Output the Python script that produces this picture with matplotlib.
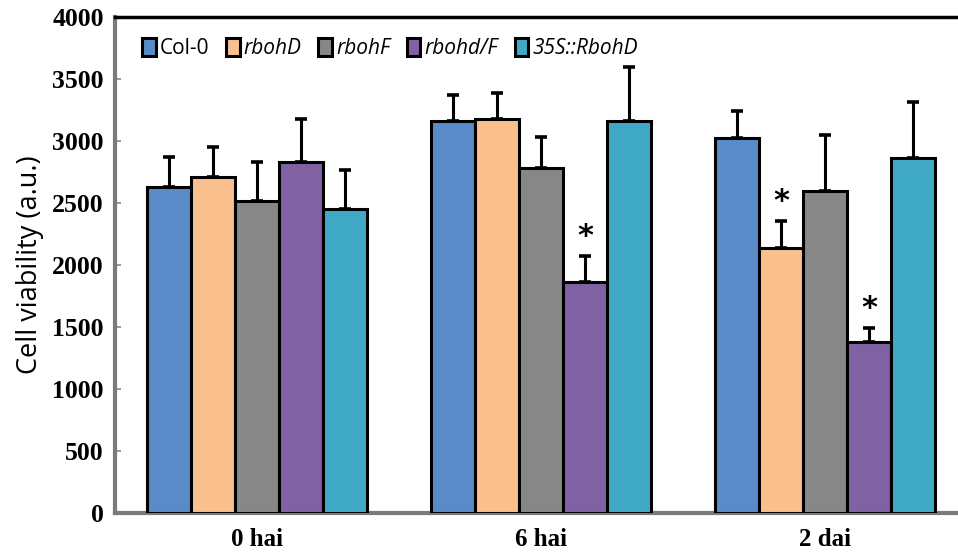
import numpy as np
import matplotlib.pyplot as plt

# 各时间点、各基因型的细胞活力均值和标准误
timepoints = ['0 hai', '6 hai', '2 dai']
genotypes = ['Col-0', 'rbohD', 'rbohF', 'rbohd/F', '35S::RbohD']
colors = ['#588BC8', '#F9C08E', '#878787', '#8062A4', '#40AAC6']

col0 = [2630, 3160, 3025]
rbohD = [2710, 3180, 2135]
rbohF = [2520, 2780, 2600]
rbohdF = [2830, 1865, 1380]
rbohD_oe = [2450, 3160, 2860]

col0_err = [243, 211, 217]
rbohD_err = [244, 210, 222]
rbohF_err = [313, 250, 448]
rbohdF_err = [347, 208, 109]
rbohD_oe_err = [316, 437, 457]

# 显著性标记 (基因型序号, 时间点序号)
stars = [(3, 1), (1, 2), (3, 2)]

means = [col0, rbohD, rbohF, rbohdF, rbohD_oe]
errs = [col0_err, rbohD_err, rbohF_err, rbohdF_err, rbohD_oe_err]

plt.rcParams['font.family'] = ['Open Sans', 'DejaVu Sans']

fig = plt.figure(figsize=(9.58, 5.55), dpi=100)
ax = fig.add_axes([0.12, 0.0757, 0.88, 0.8937])

x = np.arange(len(timepoints))
width = 0.155
handles = []
for i, name in enumerate(genotypes):
    pos = x + (i - 2) * width
    b = ax.bar(pos, means[i], width, color=colors[i], edgecolor='black',
               linewidth=2.2, zorder=3)
    handles.append(b)
    ax.errorbar(pos, means[i], yerr=[np.zeros(3), errs[i]], fmt='none',
                ecolor='black', elinewidth=2.2, capsize=4.5, capthick=2.6,
                zorder=2)

for gi, ti in stars:
    top = means[gi][ti] + errs[gi][ti]
    ax.text(x[ti] + (gi - 2) * width, top + 40, '*', ha='center', va='bottom',
            fontsize=22, fontweight='bold', family='DejaVu Sans')

ax.set_xlim(-0.5, 2.468)
ax.set_ylim(0, 4000)
ax.set_yticks(np.arange(0, 4001, 500))
ax.set_xticks(x)
ax.set_xticklabels(timepoints, family='Liberation Serif', fontweight='bold',
                   fontsize=18)
for lab in ax.get_yticklabels():
    lab.set_family('Liberation Serif')
    lab.set_fontweight('bold')
    lab.set_fontsize(18.5)
ax.tick_params(axis='y', direction='in', length=4, width=1.2, color='#888888',
               pad=8)
ax.tick_params(axis='x', length=0, pad=11)

ax.set_ylabel('Cell viability (a.u.)', fontsize=19.5, labelpad=6)

ax.spines['right'].set_visible(False)
ax.spines['top'].set_color('black')
ax.spines['top'].set_linewidth(2.5)
for s in ['left', 'bottom']:
    ax.spines[s].set_color('#7a7a7a')
    ax.spines[s].set_linewidth(3)

leg = ax.legend(handles, genotypes, loc='upper left', ncol=5, frameon=False,
                fontsize=15, handlelength=0.65, handleheight=0.9,
                handletextpad=0.2, columnspacing=0.8,
                bbox_to_anchor=(0.01, 0.995))
for t in leg.get_texts()[1:]:
    t.set_fontstyle('italic')

fig.savefig('out.png', dpi=100)
